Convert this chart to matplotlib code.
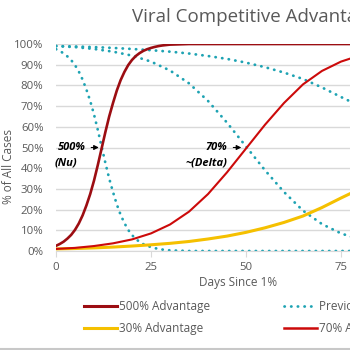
import matplotlib

matplotlib.use("Agg")
import matplotlib.pyplot as plt
from matplotlib.lines import Line2D

plt.rcParams["font.family"] = ["Open Sans", "DejaVu Sans"]

# Days since the new variant reached 1% of cases
days_nu = [0, 1, 2, 3, 4, 5, 6, 7, 8, 9, 10, 11, 12, 13, 14, 15, 16, 17, 18, 19,
           20, 21, 22, 23, 24, 25, 26, 27, 28, 29, 30, 35, 40, 50, 60, 70, 80, 90, 100]
nu_500 = [2.5, 3.4, 4.5, 6.0, 7.8, 10.2, 13.3, 17.2, 22.0, 27.5, 34.0, 41.5, 49.5, 57.5,
          65.0, 71.5, 77.5, 82.5, 86.5, 89.8, 92.3, 94.2, 95.6, 96.7, 97.5, 98.1, 98.6,
          99.0, 99.3, 99.5, 99.7, 100, 100, 100, 100, 100, 100, 100, 100]
prev_nu = [97.5, 96.6, 95.5, 94.0, 92.2, 89.8, 86.7, 82.8, 78.0, 72.5, 66.0, 58.5, 50.5,
           42.5, 35.0, 28.5, 22.5, 17.5, 13.5, 10.2, 7.7, 5.8, 4.4, 3.3, 2.5, 1.9, 1.4,
           1.0, 0.7, 0.5, 0.3, 0, 0, 0, 0, 0, 0, 0, 0]

days = [0, 5, 10, 15, 20, 25, 30, 35, 40, 45, 50, 55, 60, 65, 70, 75, 80, 85, 90, 95, 100]
delta_70 = [1.0, 1.5, 2.4, 3.7, 5.6, 8.5, 12.8, 19.0, 27.5, 38.0, 49.5, 61.0, 71.5,
            80.5, 87.0, 91.5, 94.5, 96.4, 97.7, 98.5, 99.0]
prev_delta = [99.0, 98.5, 97.6, 96.3, 94.4, 91.5, 87.2, 81.0, 72.5, 62.0, 50.5, 39.0,
              28.5, 19.5, 13.0, 8.5, 5.5, 3.6, 2.3, 1.5, 1.0]
adv_30 = [1.0, 1.2, 1.5, 1.9, 2.4, 3.0, 3.7, 4.6, 5.8, 7.2, 9.0, 11.2, 13.8, 16.9,
          21.0, 25.6, 30.0, 35.5, 41.5, 47.5, 53.5]
prev_30 = [99.0, 98.8, 98.5, 98.1, 97.6, 97.0, 96.3, 95.4, 94.2, 92.8, 91.0, 88.8,
           86.2, 83.1, 79.0, 74.4, 70.0, 64.5, 58.5, 52.5, 46.5]

y_ticks = [0, 10, 20, 30, 40, 50, 60, 70, 80, 90, 100]
x_ticks = [0, 25, 50, 75]

DARK_RED = "#9c0d12"
RED = "#cc0a0a"
GOLD = "#f5c000"
TEAL = "#1ea3b3"
GREY = "#595959"

W, H = 350, 350
fig = plt.figure(figsize=(W / 100, H / 100), dpi=100)
# plot area runs past the right edge: the reference is a cropped chart
ax = fig.add_axes([56 / W, 1 - 251 / H, 380 / W, 207 / H])

dot = dict(color=TEAL, lw=2.0, linestyle=(0, (0.1, 2.3)), dash_capstyle="round")
ax.plot(days, prev_30, **dot)
ax.plot(days, prev_delta, **dot)
ax.plot(days_nu, prev_nu, **dot)
ax.plot(days, adv_30, color=GOLD, lw=2.2)
ax.plot(days, delta_70, color=RED, lw=1.5)
ax.plot(days_nu, nu_500, color=DARK_RED, lw=1.9)

ax.set_xlim(0, 100)
ax.set_ylim(0, 100)
ax.set_yticks(y_ticks)
ax.set_yticklabels([f"{v}%" for v in y_ticks])
ax.set_xticks(x_ticks)
ax.grid(axis="y", color="#d9d9d9", lw=1.0)
ax.set_axisbelow(True)
for s in ["left", "right", "top"]:
    ax.spines[s].set_visible(False)
ax.spines["bottom"].set_color("#d9d9d9")
ax.tick_params(axis="y", length=0, pad=9, labelsize=8.2, labelcolor=GREY)
ax.tick_params(axis="x", length=4, color="#d9d9d9", pad=4, labelsize=8.2, labelcolor=GREY)

ax.set_xlabel("Days Since 1%", fontsize=8.5, color=GREY)
ax.xaxis.set_label_coords((238 - 56) / 380, -(276 - 251) / 207)
ax.set_ylabel("% of All Cases", fontsize=8.5, color=GREY)
ax.yaxis.set_label_coords(-(56 - 15) / 380, (251 - 167) / 207)

arrow = dict(arrowstyle="-|>", color="black", lw=0.8, mutation_scale=7)
ax.annotate("500%", xy=(12, 50), xytext=(7.8, 50), ha="right", va="center",
            fontsize=8, fontweight="bold", fontstyle="italic", arrowprops=arrow)
ax.text(-0.4, 42.5, "(Nu)", ha="left", va="center",
        fontsize=8, fontweight="bold", fontstyle="italic")
ax.annotate("70%", xy=(49.5, 50), xytext=(45.2, 50), ha="right", va="center",
            fontsize=8, fontweight="bold", fontstyle="italic", arrowprops=arrow)
ax.text(45.2, 42.5, "~(Delta)", ha="right", va="center",
        fontsize=8, fontweight="bold", fontstyle="italic")

fig.text(132 / W, 1 - 17 / H, "Viral Competitive Advantage", ha="left", va="center",
         fontsize=13.5, color=GREY)

handles = [
    Line2D([], [], color=DARK_RED, lw=2.2),
    Line2D([], [], color=GOLD, lw=2.2),
    Line2D([], [], **dot),
    Line2D([], [], color=RED, lw=1.8),
]
labels = ["500% Advantage", "30% Advantage", "Previous Variant", "70% Advantage"]
fig.legend(handles, labels, ncol=2, loc="upper left", bbox_to_anchor=(84 / W, 1 - 300 / H),
           frameon=False, fontsize=8.5, labelcolor=GREY, handlelength=2.8,
           handletextpad=0.2, columnspacing=6.2, labelspacing=0.75, borderpad=0,
           borderaxespad=0)

fig.add_artist(Line2D([0, 1], [1.5 / H, 1.5 / H], color="#c8c8c8", lw=1.5,
                      transform=fig.transFigure))

fig.savefig("out.png", dpi=100)
